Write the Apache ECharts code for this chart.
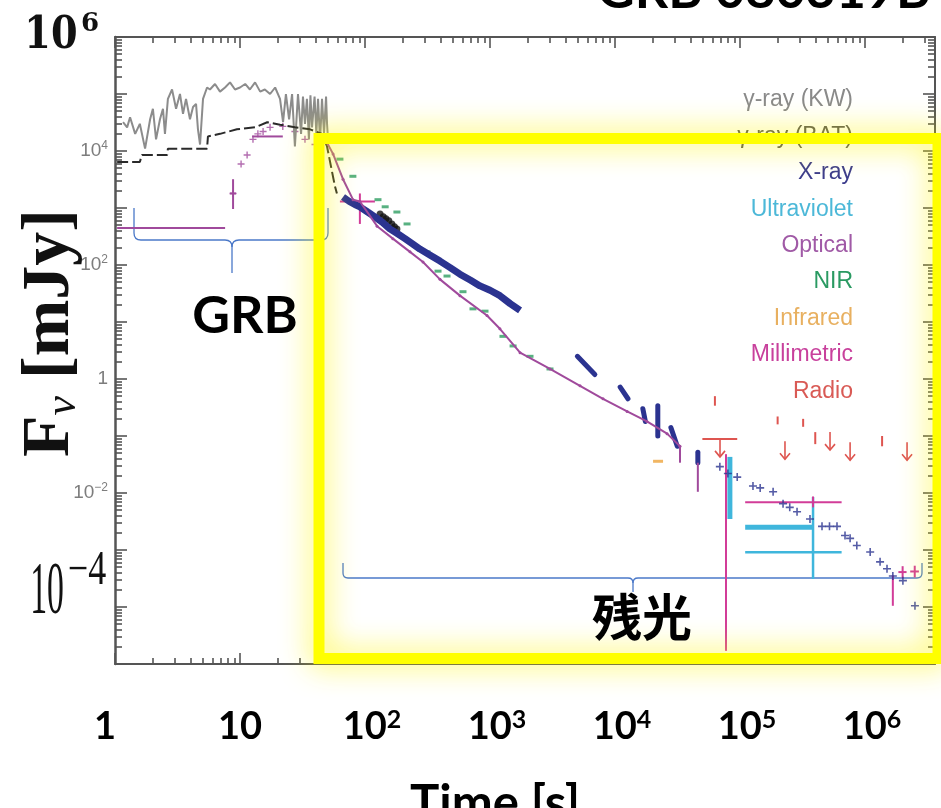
<!DOCTYPE html>
<html>
<head>
<meta charset="utf-8">
<script src="https://cdn.jsdelivr.net/npm/echarts@6/dist/echarts.min.js"></script>
<style>
  html, body { margin: 0; padding: 0; background: #fff; }
  #chart { width: 941px; height: 808px; }
</style>
</head>
<body>
<div id="chart"></div>
<script>
// values: [time (s), flux density (mJy)]
const kwData = [
  [1.16, 3.2e4], [1.25, 2.6e4], [1.32, 3.9e4], [1.45, 2.0e4], [1.58, 3.0e4], [1.74, 1.1e4],
  [1.91, 3.6e4], [2.01, 5.5e4], [2.13, 1.6e4], [2.29, 3.6e4], [2.42, 5.5e4], [2.51, 2.0e4],
  [2.65, 8.2e4], [2.86, 1.2e5], [3.08, 5.5e4], [3.31, 1.0e5], [3.5, 4.5e4], [3.7, 8.2e4],
  [3.98, 3.6e4], [4.21, 5.9e4], [4.45, 6.7e4], [4.61, 2.4e4], [4.79, 1.3e4], [5.06, 8.2e4],
  [5.45, 1.3e5], [5.75, 1.2e5], [6.31, 1.5e5], [6.92, 1.1e5], [7.59, 1.3e5], [8.32, 1.6e5],
  [9.12, 1.2e5], [10, 1.3e5], [11, 1.5e5], [12, 1.2e5], [13.2, 1.6e5], [14.5, 1.1e5],
  [15.8, 1.2e5], [17.4, 1.0e5], [19.1, 1.3e5], [20.9, 8.2e4], [22.1, 3.2e4], [23.3, 1.0e5],
  [24.7, 3.6e4], [26.1, 1.0e5], [27.5, 1.2e4], [29.1, 1.0e5], [30.8, 2.0e4], [31.9, 9.0e4],
  [33.1, 3.0e4], [34.3, 8.2e4], [35.6, 1.6e4], [36.6, 9.5e4], [37.7, 2.6e4], [39.5, 9.0e4],
  [40.8, 2.0e4], [42.1, 8.2e4], [43.7, 1.5e4], [45.3, 8.2e4], [47, 2.0e4], [48.8, 9.0e4],
  [49.7, 3.0e4], [50.6, 1.6e4]
];

const batData = [
  [1.04, 6400], [1.58, 6400], [1.64, 8500], [2.61, 8500], [2.65, 1.1e4], [5.45, 1.1e4],
  [5.54, 1.8e4], [6.92, 2.0e4], [9.45, 2.4e4], [13.2, 2.6e4], [16.5, 3.2e4], [20.9, 2.9e4],
  [27.5, 2.6e4], [36.3, 2.4e4], [45.3, 2.0e4], [49.7, 1.2e4], [54.5, 4300], [57.5, 2400], [59.6, 1800]
];
const batBlob = [[132, 785], [140, 700], [147, 650], [155, 600], [164, 525], [172, 470], [180, 430]];

const xrayBand = [
  [66.7, 1560], [75, 1300], [83, 1150], [91, 1050], [105, 850], [120, 700], [138, 560],
  [158, 430], [180, 360], [209, 290], [240, 235], [275, 190], [330, 150], [398, 117],
  [480, 90], [575, 69], [700, 54], [832, 43], [1000, 36], [1200, 29], [1450, 21], [1740, 16]
];
// [t1, F1, t2, F2]
const xraySegments = [
  [5000, 2.5, 6900, 1.2], [11000, 0.72, 12700, 0.45], [16700, 0.3, 17500, 0.18],
  [22000, 0.34, 22000, 0.1], [28000, 0.14, 31500, 0.066], [46000, 0.052, 46000, 0.034]
];
const xrayLate = [
  [69000, 0.029], [80000, 0.022], [95000, 0.019], [1.27e5, 0.0133], [1.45e5, 0.0123],
  [1.84e5, 0.0105], [2.21e5, 0.0065], [2.5e5, 0.0056], [2.86e5, 0.0047], [3.63e5, 0.0035],
  [4.53e5, 0.0026], [5.2e5, 0.0026], [5.97e5, 0.0026], [6.92e5, 0.0018], [7.6e5, 0.0016],
  [8.6e5, 0.0012], [1.1e6, 9.2e-4], [1.32e6, 6.2e-4], [1.5e6, 4.7e-4], [1.67e6, 3.5e-4],
  [2.01e6, 2.9e-4], [2.51e6, 1.05e-4]
];

const opticalRise = [
  [8.8, 1800], [10.2, 5900], [11.4, 8500], [12.7, 1.6e4], [13.9, 2.0e4], [15.3, 2.2e4],
  [17.4, 2.6e4], [22, 2.7e4], [27.5, 2.2e4], [33.1, 1.6e4], [39.8, 1.3e4]
];
const opticalDecay = [
  [49.7, 1.4e4], [55.5, 8900], [66.7, 3200], [80.2, 1400], [91, 1300], [125, 480], [167, 290],
  [229, 170], [291, 113], [398, 56], [575, 29], [946, 13], [1200, 7.6], [1740, 2.9],
  [3020, 1.5], [5250, 0.76], [8020, 0.45], [12500, 0.27], [18000, 0.18], [26100, 0.11], [33100, 0.066]
];
// [t, F, tLow, tHigh, FLow, FHigh]
const opticalErrors = [
  [2.75, 447, 1.04, 7.6, 447, 447], [8.8, 1800, 8.3, 9.3, 960, 3200],
  [16.6, 1.8e4, 12.5, 22, 1.8e4, 1.8e4], [46000, 0.02, 46000, 46000, 0.0105, 0.034],
  [33100, 0.05, 33100, 33100, 0.034, 0.066]
];

const nirData = [
  [63, 7200], [80, 3600], [127, 1400], [145, 1050], [180, 850], [217, 525], [313, 170],
  [384, 78], [453, 64], [608, 34], [731, 17], [912, 15.5], [1270, 5.6], [1530, 3.8],
  [2090, 2.5], [3020, 1.5]
];

const uvThick = [[83000, 0.018, 83000, 83000, 0.0035, 0.043], [2.0e5, 0.0025, 1.1e5, 3.84e5, 0.0025, 0.0025]];
const uvThin = [[3.84e5, 9.1e-4, 1.1e5, 6.5e5, 3.1e-4, 0.0085]];

const infraredData = [[22100, 0.036]];

const mmErrors = [
  [91, 1300, 63, 120, 525, 1800], [77300, 0.048, 77300, 77300, 1.7e-5, 0.048],
  [3.84e5, 0.0069, 1.1e5, 6.5e5, 0.0056, 0.0087], [2.0e6, 4.1e-4, 1.85e6, 2.15e6, 3.2e-4, 5.2e-4],
  [2.5e6, 4.2e-4, 2.3e6, 2.7e6, 3.3e-4, 5.3e-4], [1.67e6, 2.5e-4, 1.67e6, 1.67e6, 1.05e-4, 3.6e-4]
];

const radioLimits = [[69200, 0.089], [2.29e5, 0.081], [5.25e5, 0.117], [7.6e5, 0.078], [2.17e6, 0.078]];
const radioTicks = [
  [63000, 0.41, 63000, 63000, 0.34, 0.5], [2.0e5, 0.19, 2.0e5, 2.0e5, 0.16, 0.22],
  [3.2e5, 0.17, 3.2e5, 3.2e5, 0.145, 0.2], [4.0e5, 0.09, 4.0e5, 4.0e5, 0.072, 0.117],
  [1.37e6, 0.08, 1.37e6, 1.37e6, 0.066, 0.1], [69200, 0.089, 50000, 95000, 0.089, 0.089]
];

const legendNames = ['γ-ray (KW)', 'γ-ray (BAT)', 'X-ray', 'Ultraviolet', 'Optical', 'NIR', 'Infrared', 'Millimetric', 'Radio'];

const palette = {
  'γ-ray (KW)': '#8c8c8c',
  'γ-ray (BAT)': '#2a2a2a',
  'X-ray': '#2b3390',
  'Ultraviolet': '#3fb6dc',
  'Optical': '#a04a9c',
  'NIR': '#2e9e62',
  'Infrared': '#eea43c',
  'Millimetric': '#d23c98',
  'Radio': '#de5550'
};
const legendTextColors = {
  'γ-ray (KW)': '#8a8a8a', 'γ-ray (BAT)': '#555', 'X-ray': '#3c3c8c', 'Ultraviolet': '#4cb8d8',
  'Optical': '#a05aa6', 'NIR': '#2a9a62', 'Infrared': '#e8b060', 'Millimetric': '#c8409c', 'Radio': '#d95a55'
};

const X_MAX_EXP = 6.56;

// log-spaced tick positions for the frame (exponent space)
function decadeTicks(from, to, max) {
  const major = [], minor = [];
  for (let d = from; d <= to; d++) {
    if (d <= max) major.push(d);
    for (let k = 2; k <= 9; k++) {
      const v = d + Math.log10(k);
      if (v < max) minor.push(v);
    }
  }
  return { major, minor };
}
const xTicks = decadeTicks(0, 6, X_MAX_EXP);
const yTicks = decadeTicks(-5, 6, 6);

const frameColor = '#555';

function tickAxis(dim, position, values, length, showLine) {
  return {
    type: 'value',
    position: position,
    min: dim === 'x' ? 0 : -5,
    max: dim === 'x' ? X_MAX_EXP : 6,
    axisLine: { show: showLine, onZero: false, lineStyle: { color: frameColor, width: 2 } },
    axisTick: { show: true, inside: true, length: length, customValues: values, lineStyle: { color: frameColor, width: 1.6 } },
    axisLabel: { show: false },
    splitLine: { show: false }
  };
}

function errorBarRenderer(width) {
  return function (params, api) {
    const c = api.visual('color');
    const h0 = api.coord([api.value(2), api.value(1)]);
    const h1 = api.coord([api.value(3), api.value(1)]);
    const v0 = api.coord([api.value(0), api.value(4)]);
    const v1 = api.coord([api.value(0), api.value(5)]);
    const style = { stroke: c, lineWidth: width };
    return {
      type: 'group',
      children: [
        { type: 'line', shape: { x1: h0[0], y1: h0[1], x2: h1[0], y2: h1[1] }, style: style },
        { type: 'line', shape: { x1: v0[0], y1: v0[1], x2: v1[0], y2: v1[1] }, style: style }
      ]
    };
  };
}

function segmentRenderer(width) {
  return function (params, api) {
    const a = api.coord([api.value(0), api.value(1)]);
    const b = api.coord([api.value(2), api.value(3)]);
    return {
      type: 'line',
      shape: { x1: a[0], y1: a[1], x2: b[0], y2: b[1] },
      style: { stroke: api.visual('color'), lineWidth: width, lineCap: 'round' }
    };
  };
}

function arrowRenderer(params, api) {
  const p = api.coord([api.value(0), api.value(1)]);
  const c = api.visual('color');
  return {
    type: 'group',
    children: [
      { type: 'line', shape: { x1: p[0], y1: p[1], x2: p[0], y2: p[1] + 18 }, style: { stroke: c, lineWidth: 1.6 } },
      { type: 'polyline', shape: { points: [[p[0] - 5, p[1] + 12], [p[0], p[1] + 18], [p[0] + 5, p[1] + 12]] },
        style: { stroke: c, fill: null, lineWidth: 1.6 } }
    ]
  };
}

// curly brace drawn from lines and quadratic curves (slide annotation)
function brace(xl, xr, xm, yBase, yEnd, yTip, r) {
  const st = { stroke: '#4a78c8', lineWidth: 1.3, fill: null };
  const seg = (x1, y1, x2, y2) => ({ type: 'line', shape: { x1, y1, x2, y2 }, style: st });
  const crv = (x1, y1, cx, cy, x2, y2) => ({ type: 'bezierCurve', shape: { x1, y1, cpx1: cx, cpy1: cy, x2, y2 }, style: st });
  return {
    type: 'group', z: 101,
    children: [
      seg(xl, yEnd, xl, yBase - r),
      crv(xl, yBase - r, xl, yBase, xl + r, yBase),
      seg(xl + r, yBase, xm - r, yBase),
      crv(xm - r, yBase, xm, yBase, xm, yBase + r),
      seg(xm, yBase + r, xm, yTip),
      crv(xm + r, yBase, xm, yBase, xm, yBase + r),
      seg(xm + r, yBase, xr - r, yBase),
      crv(xr - r, yBase, xr, yBase, xr, yBase - r),
      seg(xr, yBase - r, xr, yEnd)
    ]
  };
}

const plusSymbol = 'path://M4,0H6V4H10V6H6V10H4V6H0V4H4Z';

const tickFont = { fontFamily: 'Lato', fontWeight: 'bold', fontSize: 38, lineHeight: 40, color: '#000' };
const smallLabel = { fontFamily: 'Liberation Sans', fontSize: 19, lineHeight: 22, color: '#7d7d7d' };
const centered = { align: 'center', textAlign: 'center', verticalAlign: 'middle', textVerticalAlign: 'middle' };

const chart = echarts.init(document.getElementById('chart'));

chart.setOption({
  animation: false,
  backgroundColor: '#fff',
  grid: { left: 115, right: 6, top: 37, bottom: 144, containLabel: false },
  xAxis: [
    {
      type: 'log',
      logBase: 10,
      min: 1,
      max: Math.pow(10, X_MAX_EXP),
      position: 'bottom',
      axisLine: { show: true, onZero: false, lineStyle: { color: frameColor, width: 2 } },
      axisTick: { show: false },
      splitLine: { show: false },
      axisLabel: {
        margin: 43,
        showMaxLabel: false,
        formatter: function (value) {
          const e = Math.log10(value);
          const k = Math.round(e);
          if (Math.abs(e - k) > 1e-6) return '';
          if (k === 0) return '{one|1}';
          if (k === 1) return '{b|10}';
          return '{bp|10}{sup|' + k + '}';
        },
        rich: {
          one: Object.assign({}, tickFont, { padding: [0, 20, 0, 0] }),
          b: tickFont,
          bp: Object.assign({}, tickFont, { padding: [0, 0, 0, 14] }),
          sup: { fontFamily: 'Lato', fontWeight: 'bold', fontSize: 25, lineHeight: 25, verticalAlign: 'top', color: '#000' }
        }
      }
    },
    tickAxis('x', 'top', xTicks.major, 11, true),
    tickAxis('x', 'top', xTicks.minor, 6, false),
    tickAxis('x', 'bottom', xTicks.major, 11, false),
    tickAxis('x', 'bottom', xTicks.minor, 6, false)
  ],
  yAxis: [
    {
      type: 'log',
      logBase: 10,
      min: 1e-5,
      max: 1e6,
      interval: 1,
      splitNumber: 11,
      position: 'left',
      axisLine: { show: true, onZero: false, lineStyle: { color: frameColor, width: 2.5 } },
      axisTick: { show: false },
      splitLine: { show: false },
      axisLabel: {
        margin: 7,
        formatter: function (value) {
          const e = Math.log10(value);
          const k = Math.round(e);
          if (Math.abs(e - k) > 1e-6) return '';
          const labels = { '4': '{s|10}{ss|4}', '2': '{s|10}{ss|2}', '0': '{s|1}', '-2': '{s|10}{ss|−2}' };
          return labels[String(k)] || '';
        },
        rich: {
          s: smallLabel,
          ss: { fontFamily: 'Liberation Sans', fontSize: 12, lineHeight: 12, verticalAlign: 'top', color: '#7d7d7d' }
        }
      }
    },
    tickAxis('y', 'left', yTicks.major, 12, false),
    tickAxis('y', 'left', yTicks.minor, 7, false),
    tickAxis('y', 'right', yTicks.major, 12, true),
    tickAxis('y', 'right', yTicks.minor, 7, false)
  ],
  series: [
    {
      name: 'γ-ray (KW)', type: 'line', data: kwData, showSymbol: false,
      lineStyle: { color: palette['γ-ray (KW)'], width: 2 }, itemStyle: { color: palette['γ-ray (KW)'] }
    },
    {
      name: 'γ-ray (BAT)', type: 'line', data: batData, showSymbol: false,
      lineStyle: { color: palette['γ-ray (BAT)'], width: 2, type: [11, 4] }, itemStyle: { color: palette['γ-ray (BAT)'] }
    },
    {
      name: 'γ-ray (BAT)', type: 'scatter', data: batBlob, symbolSize: 7,
      itemStyle: { color: '#111' }
    },
    {
      name: 'X-ray', type: 'line', data: xrayBand, showSymbol: false,
      lineStyle: { color: palette['X-ray'], width: 7 }, itemStyle: { color: palette['X-ray'] }
    },
    {
      name: 'X-ray', type: 'custom', data: xraySegments, renderItem: segmentRenderer(5),
      encode: { x: [0, 2], y: [1, 3] }, itemStyle: { color: palette['X-ray'] }
    },
    {
      name: 'X-ray', type: 'scatter', data: xrayLate, symbol: plusSymbol, symbolSize: 8,
      itemStyle: { color: palette['X-ray'] }
    },
    {
      name: 'Optical', type: 'line', data: opticalDecay, symbol: 'circle', symbolSize: 3,
      lineStyle: { color: palette['Optical'], width: 2 }, itemStyle: { color: palette['Optical'] }
    },
    {
      name: 'Optical', type: 'scatter', data: opticalRise, symbol: plusSymbol, symbolSize: 7,
      itemStyle: { color: palette['Optical'] }
    },
    {
      name: 'Optical', type: 'custom', data: opticalErrors, renderItem: errorBarRenderer(2),
      encode: { x: [0, 2, 3], y: [1, 4, 5] }, itemStyle: { color: palette['Optical'] }
    },
    {
      name: 'NIR', type: 'scatter', data: nirData, symbol: 'rect', symbolSize: [7, 3],
      itemStyle: { color: palette['NIR'] }
    },
    {
      name: 'Ultraviolet', type: 'custom', data: uvThick, renderItem: errorBarRenderer(5),
      encode: { x: [0, 2, 3], y: [1, 4, 5] }, itemStyle: { color: palette['Ultraviolet'] }
    },
    {
      name: 'Ultraviolet', type: 'custom', data: uvThin, renderItem: errorBarRenderer(2.5),
      encode: { x: [0, 2, 3], y: [1, 4, 5] }, itemStyle: { color: palette['Ultraviolet'] }
    },
    {
      name: 'Infrared', type: 'scatter', data: infraredData, symbol: 'rect', symbolSize: [10, 3],
      itemStyle: { color: palette['Infrared'] }
    },
    {
      name: 'Millimetric', type: 'custom', data: mmErrors, renderItem: errorBarRenderer(2),
      encode: { x: [0, 2, 3], y: [1, 4, 5] }, itemStyle: { color: palette['Millimetric'] }
    },
    {
      name: 'Radio', type: 'custom', data: radioLimits, renderItem: arrowRenderer,
      encode: { x: 0, y: 1 }, itemStyle: { color: palette['Radio'] }
    },
    {
      name: 'Radio', type: 'custom', data: radioTicks, renderItem: errorBarRenderer(2),
      encode: { x: [0, 2, 3], y: [1, 4, 5] }, itemStyle: { color: palette['Radio'] }
    }
  ],
  graphic: [
    // legend, right aligned as in the figure
    ...legendNames.map((name, i) => ({
      type: 'text', z: 1,
      x: 853, y: 100 + i * 36.4,
      style: {
        text: name, fill: legendTextColors[name], font: '23px "Liberation Sans"',
        align: 'right', textAlign: 'right', verticalAlign: 'middle', textVerticalAlign: 'middle'
      }
    })),
    // yellow highlight box over the afterglow
    {
      type: 'rect', z: 100,
      shape: { x: 319, y: 138.5, width: 619, height: 520 },
      style: { fill: null, stroke: '#ffff00', lineWidth: 11, shadowBlur: 30, shadowColor: 'rgba(255,245,0,0.9)' }
    },
    brace(134, 328, 232, 240, 208, 273, 7),
    brace(343, 922, 633, 578, 563, 592, 5),
    {
      type: 'text', z: 102, x: 245, y: 316,
      style: Object.assign({ text: 'GRB', fill: '#000', font: 'bold 52px Lato' }, centered)
    },
    {
      type: 'text', z: 102, x: 642, y: 617,
      style: Object.assign({ text: '残光', fill: '#000', font: 'bold 50px "Noto Sans CJK JP"' }, centered)
    },
    // title, cut by the top edge
    {
      type: 'text', z: 102, x: 597, y: 17,
      style: { text: 'GRB 080319B', fill: '#000', font: 'bold 52px Lato', align: 'left', textAlign: 'left', verticalAlign: 'bottom', textVerticalAlign: 'bottom' }
    },
    // axis title
    {
      type: 'text', z: 102, x: 410, y: 780,
      style: { text: 'Time [s]', fill: '#000', font: 'bold 49px Lato', align: 'left', textAlign: 'left', verticalAlign: 'top', textVerticalAlign: 'top' }
    },
    // y-axis title, rotated
    {
      type: 'text', z: 102, x: 50, y: 333, rotation: Math.PI / 2,
      style: Object.assign({
        text: '{f|F}{nu|ν}{f| [mJy]}',
        rich: {
          f: { fontFamily: 'Liberation Serif', fontWeight: 'bold', fontSize: 68, lineHeight: 70, fill: '#111' },
          nu: { fontFamily: 'Liberation Serif', fontStyle: 'italic', fontSize: 44, lineHeight: 70, verticalAlign: 'bottom', fill: '#111' }
        }
      }, centered)
    },
    // big pasted tick labels on the y axis
    {
      type: 'text', z: 102, x: 51, y: 37, scaleX: 0.87,
      style: Object.assign({ text: '10', fill: '#111', font: 'bold 44px "DejaVu Serif"' }, centered)
    },
    {
      type: 'text', z: 102, x: 90, y: 24,
      style: Object.assign({ text: '6', fill: '#111', font: 'bold 26px "DejaVu Serif"' }, centered)
    },
    {
      type: 'text', z: 102, x: 47, y: 593, scaleX: 0.45,
      style: Object.assign({ text: '10', fill: '#111', font: '75px "Liberation Serif"' }, centered)
    },
    {
      type: 'text', z: 102, x: 87, y: 571, scaleX: 0.75,
      style: Object.assign({ text: '−4', fill: '#111', font: '48px "Liberation Serif"' }, centered)
    }
  ]
});
</script>
</body>
</html>
